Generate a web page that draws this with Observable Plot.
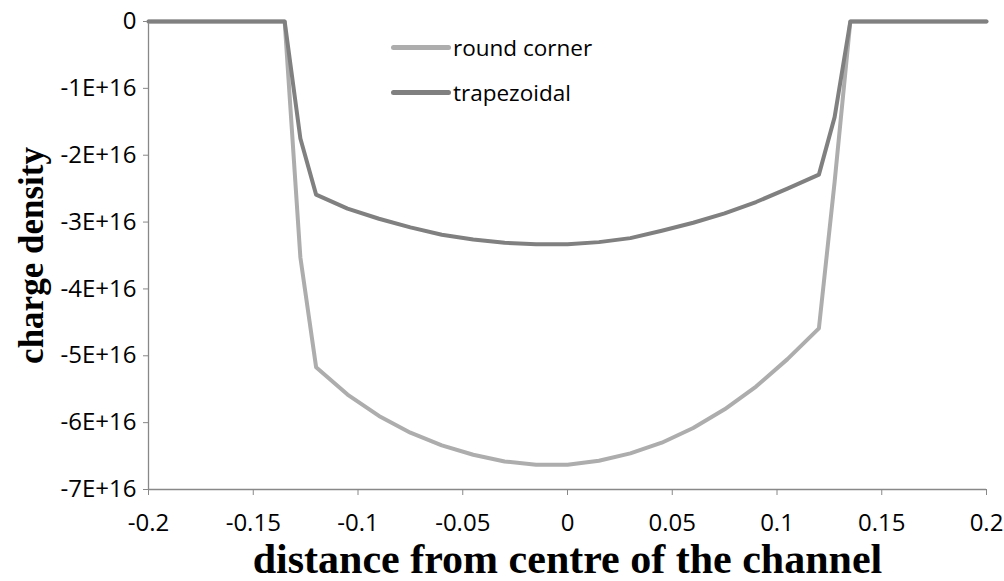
<!DOCTYPE html>
<html>
<head>
<meta charset="utf-8">
<script src="https://cdn.jsdelivr.net/npm/d3@7"></script>
<script src="https://cdn.jsdelivr.net/npm/@observablehq/plot@0.6"></script>
<style>
  html, body { margin: 0; padding: 0; background: #fff; }
  #wrap { position: relative; width: 1004px; height: 581px; }
  .legend { position: absolute; left: 391px; top: 25px; font-family: "Open Sans", sans-serif; font-size: 22.5px; color: #000; }
  .legend .row { display: flex; align-items: center; height: 45px; }
  .legend .sw { width: 60px; height: 5px; border-radius: 3px; margin-right: 2px; }
</style>
</head>
<body>
<div id="wrap">
  <div id="chart"></div>
  <div class="legend" id="legend"></div>
</div>
<script>
// Position across the channel (x) and charge density for both channel shapes
const distance = [-0.2, -0.135, -0.1275, -0.12, -0.105, -0.09, -0.075, -0.06, -0.045, -0.03, -0.015,
  0, 0.015, 0.03, 0.045, 0.06, 0.075, 0.09, 0.105, 0.12, 0.1275, 0.135, 0.2];

const roundCorner = [0, 0, -3.53e16, -5.17e16, -5.58e16, -5.90e16, -6.15e16, -6.34e16, -6.48e16, -6.58e16, -6.63e16,
  -6.63e16, -6.57e16, -6.46e16, -6.30e16, -6.08e16, -5.80e16, -5.46e16, -5.05e16, -4.59e16, -2.4e16, 0, 0];

const trapezoidal = [0, 0, -1.75e16, -2.59e16, -2.80e16, -2.95e16, -3.08e16, -3.19e16, -3.26e16, -3.31e16, -3.33e16,
  -3.33e16, -3.30e16, -3.24e16, -3.13e16, -3.01e16, -2.87e16, -2.70e16, -2.50e16, -2.29e16, -1.43e16, 0, 0];

const seriesNames = ["round corner", "trapezoidal"];
const seriesColors = ["#adadad", "#808080"];

const xTicks = [-0.2, -0.15, -0.1, -0.05, 0, 0.05, 0.1, 0.15, 0.2];
const yTicks = [0, -1e16, -2e16, -3e16, -4e16, -5e16, -6e16, -7e16];

const rows = [
  ...distance.map((d, i) => ({x: d, y: roundCorner[i], series: seriesNames[0]})),
  ...distance.map((d, i) => ({x: d, y: trapezoidal[i], series: seriesNames[1]}))
];

const axisGray = "#888888";
const tickFont = "Open Sans, sans-serif";
const titleFont = "Liberation Serif, Times New Roman, serif";

const chart = Plot.plot({
  width: 1004,
  height: 581,
  marginLeft: 148,
  marginRight: 18,
  marginTop: 21,
  marginBottom: 92,
  style: {fontFamily: tickFont, background: "#fff"},
  x: {domain: [-0.2, 0.2]},
  y: {domain: [-7e16, 0]},
  color: {domain: seriesNames, range: seriesColors},
  marks: [
    Plot.ruleX([-0.2], {stroke: axisGray, strokeWidth: 1.3}),
    Plot.ruleY([-7e16], {stroke: axisGray, strokeWidth: 1.3}),
    Plot.axisY({
      ticks: yTicks,
      tickSize: 5,
      tickPadding: 7,
      stroke: axisGray,
      fill: "#000",
      fontSize: 24,
      label: null,
      tickFormat: d => d === 0 ? "0" : `-${Math.round(-d / 1e16)}E+16`
    }),
    Plot.axisX({
      ticks: xTicks,
      tickSize: 6,
      tickPadding: 18,
      stroke: axisGray,
      fill: "#000",
      fontSize: 24,
      label: null,
      tickFormat: d => String(+d.toFixed(2))
    }),
    Plot.line(rows, {x: "x", y: "y", z: "series", stroke: "series", strokeWidth: 4, strokeLinejoin: "round"}),
    Plot.text(["distance from centre of the channel"], {
      frameAnchor: "bottom", dy: 70, lineAnchor: "middle", textAnchor: "middle",
      fontFamily: titleFont, fontWeight: "bold", fontSize: 42, fill: "#000"
    }),
    Plot.text(["charge density"], {
      frameAnchor: "left", dx: -117, rotate: -90, textAnchor: "middle", lineAnchor: "middle",
      fontFamily: titleFont, fontWeight: "bold", fontSize: 35, fill: "#000"
    })
  ]
});
document.getElementById("chart").appendChild(chart);

// Legend: a line swatch followed by the series name
const legend = d3.select("#legend");
seriesNames.forEach((name, i) => {
  const row = legend.append("div").attr("class", "row");
  row.append("div").attr("class", "sw").style("background", seriesColors[i]);
  row.append("span").text(name);
});
</script>
</body>
</html>
